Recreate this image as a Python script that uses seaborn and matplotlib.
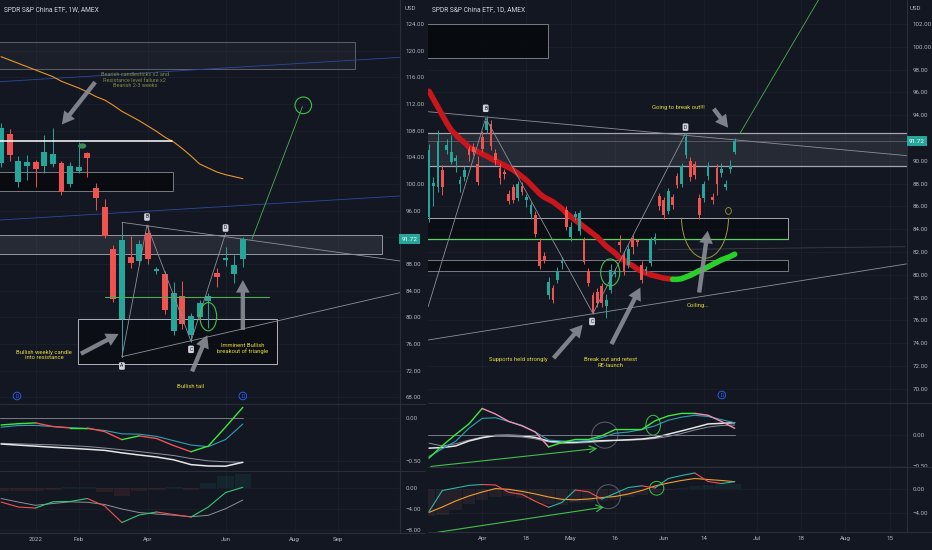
import numpy as np
import pandas as pd
import matplotlib
matplotlib.use("Agg")
import matplotlib.pyplot as plt
import seaborn as sns
from matplotlib.patches import Rectangle, Ellipse, Arc
from matplotlib.lines import Line2D

# ---------------- weekly chart (left) ----------------
w_first_week = "2021-12-06"
w_open = [103.1, 107.45, 100.35, 102.75, 103.25, 102.75, 103.0, 103.1, 100.0, 101.95,
          104.6, 99.45, 96.6, 90.25, 79.7, 89.05, 88.5, 92.7, 87.0, 86.45,
          78.0, 83.2, 77.35, 80.0, 82.5, 86.7, 88.6, 86.45, 88.8]
w_close = [108.45, 104.35, 103.5, 103.25, 102.2, 104.75, 104.55, 98.75, 102.75, 102.5,
           103.9, 97.95, 92.2, 82.7, 91.6, 88.15, 90.95, 88.7, 87.2, 81.1,
           83.7, 79.0, 80.25, 82.2, 83.2, 86.0, 88.8, 87.8, 91.72]
w_high = [109.2, 108.2, 104.2, 104.35, 103.6, 107.35, 108.45, 103.5, 103.3, 106.35,
          104.85, 100.2, 97.75, 90.85, 92.6, 92.2, 91.6, 93.85, 87.5, 87.0,
          85.35, 85.5, 80.6, 82.6, 83.6, 87.4, 90.6, 89.35, 92.1]
w_low = [102.5, 103.5, 99.6, 100.6, 99.6, 101.65, 102.6, 98.3, 99.5, 101.6,
         101.1, 96.1, 91.9, 82.3, 74.1, 87.4, 87.8, 88.0, 86.5, 80.5,
         77.35, 78.3, 76.35, 79.8, 78.4, 84.6, 87.7, 85.15, 87.5]
w_ma = [119.1, 118.6, 118.1, 117.6, 117.1, 116.6, 116.1, 115.4, 114.9, 114.4,
        113.8, 113.1, 112.6, 111.8, 110.9, 110.2, 109.5, 108.7, 107.9, 107.0,
        106.3, 105.3, 104.2, 103.0, 102.4, 101.8, 101.4, 101.1, 100.8]
# oscillators sampled every 2nd week
w_osc_fast = [-0.081, -0.066, -0.057, -0.099, -0.116, -0.116, -0.158, -0.251, -0.208, -0.238,
              -0.321, -0.392, -0.326, -0.105, 0.124]
w_osc_teal = [-0.107, -0.087, -0.086, -0.099, -0.112, -0.124, -0.145, -0.184, -0.188, -0.213,
              -0.264, -0.314, -0.333, -0.25, -0.07]
w_osc_white = [-0.302, -0.315, -0.327, -0.340, -0.351, -0.363, -0.376, -0.405, -0.430, -0.453,
               -0.486, -0.542, -0.558, -0.560, -0.515]
w_osc_gray = [-0.294, -0.300, -0.306, -0.312, -0.321, -0.331, -0.349, -0.369, -0.390, -0.413,
              -0.436, -0.471, -0.498, -0.509, -0.515]
w_macd = [-2.67, -3.62, -3.81, -2.63, -2.57, -2.0, -3.43, -6.57, -5.14, -4.57, -5.05, -5.52, -3.62, -0.86, 0.13]
w_signal = [-2.0, -2.67, -3.3, -2.95, -2.63, -2.72, -3.14, -4.0, -4.67, -4.95, -5.18, -5.47, -5.2, -3.94, -2.29]
w_hist = [-0.5, -0.6, -0.6, -0.4, 0.2, 0.2, -0.8, -1.6, -0.6, -0.3, 0.2, -0.3, 1.0, 2.2, 2.6]
w_tick_dates = ["2022-01-03", "2022-02-07", "2022-04-04", "2022-06-06", "2022-08-01", "2022-09-05"]
w_tick_labels = ["2022", "Feb", "Apr", "Jun", "Aug", "Sep"]
w_price_ticks = [124, 120, 116, 112, 108, 104, 100, 96, 92, 88, 84, 80, 76, 72, 68]
w_osc_ticks = [0.0, -0.5]
w_macd_ticks = [0.0, -4.0, -8.0]

# ---------------- daily chart (right) ----------------
d_first_day = "2022-03-16"
d_holidays = ["2022-04-15", "2022-05-30", "2022-06-20", "2022-07-04"]
d_open = [85.1, 87.8, 87.7, 89.2, 90.95, 89.9, 90.0, 87.95, 88.6, 91.0,
          91.2, 89.7, 92.05, 92.7, 93.2, 90.65, 89.4, 89.0, 87.05, 87.7,
          86.75, 87.8, 86.55, 85.3, 85.25, 82.9, 81.65, 78.2, 78.8, 79.55,
          81.05, 85.7, 83.3, 85.1, 83.8, 83.05, 80.3, 78.2, 78.5, 79.0,
          77.25, 78.7, 80.1, 82.9, 81.75, 80.85, 83.2, 82.9, 80.85, 80.3,
          81.0, 83.0, 86.9, 86.55, 85.55, 86.8, 88.65, 87.95, 90.5, 90.0,
          89.7, 86.75, 86.75, 88.65, 86.85, 89.4, 88.9, 87.7, 89.25, 90.8]
d_close = [90.95, 88.05, 91.7, 87.7, 91.4, 90.8, 90.2, 88.3, 89.15, 90.5,
           90.8, 88.1, 91.0, 93.5, 91.25, 90.05, 88.45, 88.8, 86.5, 86.6,
           87.95, 87.3, 86.85, 86.1, 83.6, 80.8, 81.25, 79.4, 77.8, 80.35,
           81.3, 84.2, 84.2, 85.3, 85.45, 81.15, 79.25, 76.75, 77.5, 77.5,
           77.8, 80.4, 80.3, 82.6, 80.3, 82.3, 82.45, 82.8, 79.55, 80.5,
           83.05, 83.35, 86.0, 85.25, 87.35, 86.1, 87.9, 89.5, 92.05, 88.55,
           88.75, 85.25, 87.95, 89.5, 86.55, 87.95, 89.25, 87.95, 89.5, 91.72]
d_high = [91.5, 88.6, 92.7, 89.6, 91.9, 92.3, 90.5, 88.7, 89.5, 91.3,
          91.6, 90.4, 92.6, 93.9, 93.6, 91.0, 89.8, 89.3, 87.4, 88.0,
          88.2, 88.1, 87.1, 86.4, 85.6, 83.2, 82.0, 79.8, 79.1, 80.7,
          81.6, 86.0, 84.6, 85.6, 85.7, 83.3, 80.6, 78.5, 78.8, 79.3,
          78.3, 80.9, 80.6, 83.5, 82.1, 82.6, 83.5, 83.1, 81.2, 80.8,
          83.3, 83.7, 87.2, 86.8, 87.6, 87.1, 88.9, 89.8, 92.4, 90.3,
          90.0, 87.1, 88.2, 89.9, 87.2, 89.7, 89.8, 88.3, 90.1, 92.0]
d_low = [84.6, 86.0, 87.3, 87.0, 90.6, 89.7, 89.0, 87.3, 88.2, 90.0,
         90.5, 87.9, 90.8, 92.4, 90.9, 89.6, 88.0, 88.4, 86.2, 86.3,
         86.5, 87.0, 85.9, 84.9, 83.3, 80.5, 81.0, 77.9, 77.5, 79.3,
         80.5, 83.9, 83.0, 84.8, 83.5, 80.9, 79.0, 76.6, 77.2, 77.2,
         76.2, 78.4, 79.8, 82.0, 80.0, 80.6, 81.8, 82.5, 79.3, 80.1,
         80.8, 82.7, 85.7, 84.9, 85.3, 85.8, 87.6, 87.7, 90.2, 88.2,
         88.4, 84.9, 86.4, 88.3, 86.2, 87.0, 88.6, 87.4, 88.9, 90.6]
d_ma = [96.1, 95.4, 94.7, 94.0, 93.3, 92.7, 92.3, 91.9, 91.6, 91.2,
        91.0, 90.8, 90.6, 90.4, 90.2, 90.0, 89.8, 89.6, 89.4, 89.2,
        88.9, 88.6, 88.3, 87.9, 87.5, 87.1, 86.8, 86.6, 86.4, 86.1,
        85.8, 85.4, 85.1, 84.8, 84.5, 84.2, 83.9, 83.6, 83.3, 82.9,
        82.5, 82.2, 81.9, 81.5, 81.3, 81.0, 80.8, 80.5, 80.3, 80.15,
        80.0, 79.9, 79.8, 79.7, 79.65, 79.6, 79.6, 79.65, 79.8, 79.95,
        80.15, 80.35, 80.5, 80.7, 80.9, 81.1, 81.3, 81.45, 81.6, 81.8]
# oscillators sampled every 3rd session
d_osc_fast = [-0.38, -0.18, 0.0, 0.17, 0.42, 0.33, 0.21, 0.14, 0.04, -0.20, -0.13, -0.08,
              -0.08, -0.02, 0.08, 0.08, 0.08, 0.22, 0.30, 0.34, 0.34, 0.31, 0.21, 0.10]
d_osc_teal = [-0.355, -0.23, -0.11, 0.10, 0.26, 0.27, 0.21, 0.145, 0.04, -0.09, -0.105, -0.11,
              -0.10, -0.05, 0.02, 0.04, 0.08, 0.14, 0.23, 0.28, 0.31, 0.29, 0.24, 0.19]
d_osc_white = [-0.22, -0.21, -0.185, -0.105, -0.053, -0.016, -0.013, -0.02, -0.048, -0.105, -0.124, -0.127,
               -0.11, -0.10, -0.094, -0.085, -0.073, -0.048, 0.005, 0.058, 0.113, 0.17, 0.18, 0.19]
d_osc_gray = [-0.14, -0.185, -0.15, -0.09, -0.04, -0.024, -0.03, -0.04, -0.07, -0.12, -0.145, -0.137,
              -0.13, -0.113, -0.097, -0.089, -0.084, -0.065, -0.032, 0.016, 0.073, 0.12, 0.145, 0.153]
d_macd = [-3.75, -0.25, 0.17, 0.6, 0.75, 0.67, -0.55, -0.9, -2.05, -3.05, -2.25, -0.17,
          -0.47, -1.67, -0.72, 0.25, 0.53, 0.17, 1.75, 2.25, 2.67, 1.25, 0.92, 1.22]
d_signal = [-3.9, -3.0, -2.0, -1.17, -0.5, 0.07, -0.05, -0.4, -0.83, -1.33, -1.72, -1.8,
            -1.67, -1.43, -1.25, -0.83, -0.25, 0.5, 1.0, 1.42, 1.75, 1.58, 1.42, 1.22]
d_hist = [-4.5, -4.3, -3.5, -2.5, -1.8, -1.3, -1.2, -1.5, -2.0, -2.5, -2.6, -2.4,
          -2.2, -2.0, -1.8, -1.4, -1.0, -0.6, -0.2, 0.2, 0.5, 0.7, 0.8, 0.9]
d_tick_dates = ["2022-04-01", "2022-04-18", "2022-05-02", "2022-05-16", "2022-06-01",
                "2022-06-14", "2022-07-01", "2022-07-18", "2022-08-01", "2022-08-15"]
d_tick_labels = ["Apr", "18", "May", "16", "Jun", "14", "Jul", "18", "Aug", "15"]
d_price_ticks = [102, 100, 98, 96, 94, 92, 90, 88, 86, 84, 82, 80, 78, 76, 74, 72, 70]
d_osc_ticks = [0.0, -0.5]
d_macd_ticks = [0.0, -4.0]

last_price = 91.72

# ---------------- style ----------------
W, H = 932, 550
BG = "#131722"
GRID = "#1c202b"
SEP = "#2a2e39"
TXT = "#b2b5be"
UP = "#26a69a"
DN = "#ef5350"
NOTE = "#e9dc3a"
LINE = "#8d909a"
GREEN = "#4caf50"

sns.set_theme(style="dark", rc={"figure.facecolor": BG, "axes.facecolor": BG,
                                "savefig.facecolor": BG})
plt.rcParams["font.family"] = ["Roboto", "DejaVu Sans"]


def pane(fig, x0, y0, x1, y1):
    ax = fig.add_axes([x0 / W, 1 - y1 / H, (x1 - x0) / W, (y1 - y0) / H])
    ax.set_facecolor(BG)
    for side in ("left", "top"):
        ax.spines[side].set_visible(False)
    for side in ("right", "bottom"):
        ax.spines[side].set_color(SEP)
        ax.spines[side].set_linewidth(0.8)
    ax.yaxis.tick_right()
    ax.tick_params(axis="both", length=0, labelsize=4.4, labelcolor=TXT, pad=4)
    ax.grid(True, color=GRID, lw=0.6)
    ax.set_axisbelow(True)
    return ax


def value_axis(ax, ticks, lim, hide_near=None):
    ax.set_ylim(*lim)
    ax.set_yticks(ticks)
    labels = []
    for t in ticks:
        if hide_near is not None and abs(t - hide_near) < 1.0:
            labels.append("")
        else:
            labels.append(f"{t:.2f}".replace("-", "\u2212"))
    ax.set_yticklabels(labels)


def candles(ax, o, c, h, l, width, min_body):
    o, c, h, l = (np.asarray(v, float) for v in (o, c, h, l))
    x = np.arange(len(o))
    col = np.where(c >= o, UP, DN)
    ax.vlines(x, l, h, colors=col, lw=0.7, zorder=4)
    body = c - o
    body = np.where(np.abs(body) < min_body, min_body, body)
    ax.bar(x, body, bottom=o, width=width, color=col, lw=0, zorder=5)


def by_slope(ax, x, y, up_col, dn_col, lw, zorder=3):
    x = np.asarray(x, float)
    y = np.asarray(y, float)
    rising = np.diff(y) >= 0
    start = 0
    for i in range(1, len(rising) + 1):
        if i == len(rising) or rising[i] != rising[start]:
            ax.plot(x[start:i + 1], y[start:i + 1], color=up_col if rising[start] else dn_col,
                    lw=lw, solid_capstyle="round", zorder=zorder)
            start = i


def zone(ax, x0, x1, y0, y1, fc, ec, alpha, lw=0.7):
    ax.add_patch(Rectangle((x0, y0), x1 - x0, y1 - y0, fc=fc, ec="none", alpha=alpha, zorder=2))
    ax.add_patch(Rectangle((x0, y0), x1 - x0, y1 - y0, fc="none", ec=ec, lw=lw, zorder=2))


def seg(ax, p0, p1, color=LINE, lw=0.6, z=3):
    ax.plot([p0[0], p1[0]], [p0[1], p1[1]], color=color, lw=lw, zorder=z)


def big_arrow(ax, start, end):
    ax.annotate("", xy=end, xytext=start, zorder=7,
                arrowprops=dict(arrowstyle="simple,head_width=1.1,head_length=1.0,tail_width=0.35",
                                fc="#8a8d96", ec="none", alpha=0.9, mutation_scale=9))


def note(ax, x, y, s, color=NOTE, size=4.2):
    ax.text(x, y, s, color=color, fontsize=size, ha="center", va="center",
            linespacing=1.1, zorder=8)


def point_tag(ax, x, y, s):
    ax.text(x, y, s, fontsize=3.6, color="#131722", ha="center", va="center", zorder=8,
            bbox=dict(boxstyle="round,pad=0.25", fc="#d1d4dc", ec="none"))


def event_tag(ax, x, y):
    ax.text(x, y, "D", fontsize=3.8, color="#2962ff", ha="center", va="center", zorder=8,
            bbox=dict(boxstyle="circle,pad=0.25", fc="none", ec="#2962ff", lw=0.6))


def last_tag(ax, value):
    ax.text(1.004, value, f"{value:.2f}", transform=ax.get_yaxis_transform(), ha="left",
            va="center", fontsize=4.6, color="white", clip_on=False, zorder=9,
            bbox=dict(boxstyle="square,pad=0.35", fc=UP, ec="none"))


fig = plt.figure(figsize=(W / 100, H / 100), dpi=100)

# ================= left: weekly =================
w_days = pd.date_range(w_first_week, periods=60, freq="7D")
w_ticks = w_days.get_indexer(pd.to_datetime(w_tick_dates))
w_sx = np.arange(0, len(w_open), 2)

axL = pane(fig, 0, 0, 400, 404)
axL1 = pane(fig, 0, 404, 400, 471)
axL2 = pane(fig, 0, 471, 400, 533)
for ax in (axL, axL1, axL2):
    ax.set_xlim(-0.12, 46.2)
    ax.set_xticks(w_ticks)
    ax.set_xticklabels([])
axL2.set_xticklabels(w_tick_labels)
axL2.tick_params(axis="x", pad=3)
value_axis(axL, w_price_ticks, (67.0, 127.6), hide_near=last_price)
value_axis(axL1, w_osc_ticks, (-0.616, 0.163))
value_axis(axL2, w_macd_ticks, (-8.57, 3.24))

# drawings
zone(axL, -1, 41.0, 117.2, 121.35, "#b2b5be", "#5d606b", 0.05)
zone(axL, -1, 19.9, 98.95, 101.85, "#05070b", "#787b86", 0.7)
zone(axL, -1, 44.1, 89.5, 92.35, "#b2b5be", "#9598a1", 0.12)
zone(axL, 8.9, 32.0, 73.0, 79.7, "#05070b", "#b2b5be", 0.55)
seg(axL, (-1, 106.45), (19.8, 106.45), color="white", lw=1.1, z=6)
seg(axL, (12.0, 83.0), (31.0, 83.0), color=GREEN, lw=0.8, z=6)
seg(axL, (-0.12, 115.35), (46.2, 119.0), color="#2b4a9e", lw=0.6)
seg(axL, (-0.12, 94.6), (46.2, 98.2), color="#2b4a9e", lw=0.6)
seg(axL, (14.0, 94.25), (46.2, 88.45))
seg(axL, (14.0, 74.1), (46.2, 83.7))
seg(axL, (14.0, 74.1), (14.0, 94.25))
axL.plot([14.0, 16.9, 22.0, 26.0], [74.1, 93.85, 76.4, 92.6], color=LINE, lw=0.6, zorder=6)
seg(axL, (29.05, 91.7), (34.9, 111.6), color=GREEN, lw=0.6, z=6)
axL.add_patch(Ellipse((35.0, 111.8), 1.92, 2.5, fill=False, ec="#43c04a", lw=0.8, zorder=6))
axL.add_patch(Ellipse((9.4, 105.7), 0.95, 0.8, fc="#3d8b55", ec="none", zorder=6))
axL.add_patch(Ellipse((24.0, 80.1), 1.94, 4.25, fill=False, ec="#43c04a", lw=0.8, zorder=6))
sns.lineplot(x=np.arange(len(w_ma)), y=w_ma, ax=axL, color="#e8952b", lw=0.8, zorder=3)
candles(axL, w_open, w_close, w_high, w_low, width=0.68, min_body=0.25)

big_arrow(axL, (11.1, 115.6), (6.84, 108.6))
big_arrow(axL, (8.96, 74.35), (13.9, 77.7))
big_arrow(axL, (22.0, 71.5), (24.0, 77.7))
big_arrow(axL, (28.0, 77.7), (28.0, 86.0))
note(axL, 15.5, 115.6, "Bearish candlesticks x2 and\nResistance level failure x2\nBearish 2-3 weeks",
     color="#7f8a45", size=4.0)
note(axL, 5.0, 74.35, "Bullish weekly candle\ninto resistance")
note(axL, 28.0, 75.3, "Imminent Bullish\nbreakout of triangle")
note(axL, 22.0, 69.6, "Bullish tail")
point_tag(axL, 14.0, 72.7, "A")
point_tag(axL, 16.9, 95.05, "B")
point_tag(axL, 22.0, 75.2, "C")
point_tag(axL, 26.0, 93.4, "D")
event_tag(axL, 1.85, 68.2)
event_tag(axL, 28.0, 68.2)
last_tag(axL, last_price)

# weekly oscillator
seg(axL1, (-0.12, 0.0), (28.0, 0.0), color="#787b86", lw=0.7)
sns.lineplot(x=w_sx, y=w_osc_gray, ax=axL1, color="#8d909a", lw=0.7)
sns.lineplot(x=w_sx, y=w_osc_white, ax=axL1, color="#e6e6e6", lw=1.1)
sns.lineplot(x=w_sx, y=w_osc_teal, ax=axL1, color="#2f9fb3", lw=0.8)
by_slope(axL1, w_sx, w_osc_fast, "#3ee83e", DN, 1.0, zorder=4)

# weekly macd
w_h = np.asarray(w_hist)
axL2.bar(w_sx, w_h, width=1.9, color=np.where(w_h >= 0, UP, DN), alpha=0.1, lw=0)
sns.lineplot(x=w_sx, y=w_signal, ax=axL2, color="#8d909a", lw=0.7)
by_slope(axL2, w_sx, w_macd, "#35c779", DN, 0.8, zorder=4)

fig.text(4 / W, 1 - 10 / H, "SPDR S&P China ETF, 1W, AMEX", fontsize=4.8, color="#d1d4dc", va="center")
fig.text(405 / W, 1 - 9 / H, "USD", fontsize=4.4, color=TXT, va="center")

# ================= right: daily =================
d_days = pd.bdate_range(d_first_day, periods=120, freq="C", holidays=d_holidays)
d_ticks = d_days.get_indexer(pd.to_datetime(d_tick_dates))
d_sx = np.arange(0, len(d_open), 3)

axR = pane(fig, 428, 0, 907, 403)
axR1 = pane(fig, 428, 403, 907, 467)
axR2 = pane(fig, 428, 467, 907, 532)
for ax in (axR, axR1, axR2):
    ax.set_xlim(-0.23, 107.9)
    ax.set_xticks(d_ticks)
    ax.set_xticklabels([])
axR2.set_xticklabels(d_tick_labels)
axR2.tick_params(axis="x", pad=3)
value_axis(axR, d_price_ticks, (68.75, 104.1), hide_near=last_price)
value_axis(axR1, d_osc_ticks, (-0.524, 0.508))
value_axis(axR2, d_macd_ticks, (-7.17, 3.67))

zone(axR, -1, 26.9, 98.99, 101.97, "#05070b", "#787b86", 0.8)
zone(axR, -1, 110, 89.57, 92.46, "#b2b5be", "#a3a6af", 0.12, lw=0.9)
seg(axR, (-1, last_price), (110, last_price), color="#5d606b", lw=0.6)
zone(axR, -1, 81.1, 83.1, 84.95, "#05070b", "#a3a6af", 0.6)
zone(axR, -1, 81.1, 80.35, 81.25, "#05070b", "#787b86", 0.6)
seg(axR, (-1, 83.1), (81.1, 83.1), color="#5fd35f", lw=0.9, z=3)
seg(axR, (51.7, 82.2), (107.4, 82.46), color="#3a3e49", lw=0.6)
seg(axR, (-0.16, 94.3), (107.8, 90.45))
seg(axR, (-0.16, 74.28), (107.8, 80.95))
axR.plot([-0.2, 12.8, 37.0, 57.9], [77.2, 93.74, 76.6, 92.4], color=LINE, lw=0.6, zorder=6)
seg(axR, (70.2, 92.4), (92.0, 106.8), color=GREEN, lw=0.6, z=6)
by_slope(axR, np.arange(len(d_ma)), d_ma, "#28d02a", "#c8161d", 4.0, zorder=3)
candles(axR, d_open, d_close, d_high, d_low, width=0.62, min_body=0.12)

axR.add_patch(Ellipse((40.9, 80.2), 4.3, 2.37, fill=False, ec="#43c04a", lw=0.8, zorder=6))
axR.add_patch(Arc((62.3, 85.0), 10.6, 7.1, theta1=180, theta2=360, ec="#9a9a3c", lw=0.7, zorder=6))
axR.add_patch(Ellipse((67.6, 85.6), 1.3, 0.6, angle=0, fill=False, ec="#9a9a3c", lw=0.6, zorder=6))
big_arrow(axR, (27.7, 72.5), (35.1, 75.8))
big_arrow(axR, (40.9, 73.7), (48.0, 79.1))
big_arrow(axR, (60.9, 78.2), (63.0, 84.1))
big_arrow(axR, (63.9, 94.75), (67.9, 92.7))
note(axR, 56.4, 94.7, "Going to break out!!!")
note(axR, 20.2, 72.6, "Supports held strongly")
note(axR, 40.9, 72.3, "Break out and retest\nRE-launch")
note(axR, 60.7, 77.3, "Coiling...")
point_tag(axR, 12.8, 94.6, "B")
point_tag(axR, 36.8, 75.9, "C")
point_tag(axR, 57.9, 92.95, "D")
event_tag(axR, 66.1, 69.45)
last_tag(axR, last_price)

# daily oscillator
seg(axR1, (-0.2, 0.0), (69.0, 0.0), color="#787b86", lw=0.7)
sns.lineplot(x=d_sx, y=d_osc_gray, ax=axR1, color="#8d909a", lw=0.7)
sns.lineplot(x=d_sx, y=d_osc_white, ax=axR1, color="#e6e6e6", lw=1.1)
sns.lineplot(x=d_sx, y=d_osc_teal, ax=axR1, color="#2f9fb3", lw=0.8)
by_slope(axR1, d_sx, d_osc_fast, "#3ee83e", "#f48fb1", 1.0, zorder=4)
axR1.annotate("", xy=(38.6, -0.22), xytext=(-0.2, -0.52),
              arrowprops=dict(arrowstyle="->", color="#43c04a", lw=0.8))
axR1.add_patch(Ellipse((39.7, -0.01), 5.9, 0.42, fill=False, ec="#5d606b", lw=0.7))
axR1.add_patch(Ellipse((50.6, 0.15), 3.3, 0.32, fill=False, ec="#43c04a", lw=0.7))

# daily macd
d_h = np.asarray(d_hist)
axR2.bar(d_sx, d_h, width=2.8, color=np.where(d_h >= 0, UP, "#b0707a"), alpha=0.1, lw=0)
sns.lineplot(x=d_sx, y=d_signal, ax=axR2, color="#f0a030", lw=0.8)
by_slope(axR2, d_sx, d_macd, "#2fb5a5", DN, 0.8, zorder=4)
axR2.annotate("", xy=(40.1, -2.95), xytext=(1.35, -7.28),
              arrowprops=dict(arrowstyle="->", color="#43c04a", lw=0.8))
axR2.add_patch(Ellipse((40.5, -1.28), 5.4, 4.0, fill=False, ec="#5d606b", lw=0.7))
axR2.add_patch(Ellipse((51.4, 0.12), 3.2, 2.3, fill=False, ec="#43c04a", lw=0.7))

fig.text(432 / W, 1 - 10 / H, "SPDR S&P China ETF, 1D, AMEX", fontsize=4.8, color="#d1d4dc", va="center")
fig.text(910 / W, 1 - 9 / H, "USD", fontsize=4.4, color=TXT, va="center")

# pane separators across price columns
for y, x0, x1 in [(404, 0, 425), (471, 0, 425), (533, 0, 425),
                  (403, 428, 932), (467, 428, 932), (532, 428, 932)]:
    fig.add_artist(Line2D([x0 / W, x1 / W], [1 - y / H, 1 - y / H], color=SEP, lw=0.8))

fig.savefig("out.png", dpi=100, facecolor=BG)
